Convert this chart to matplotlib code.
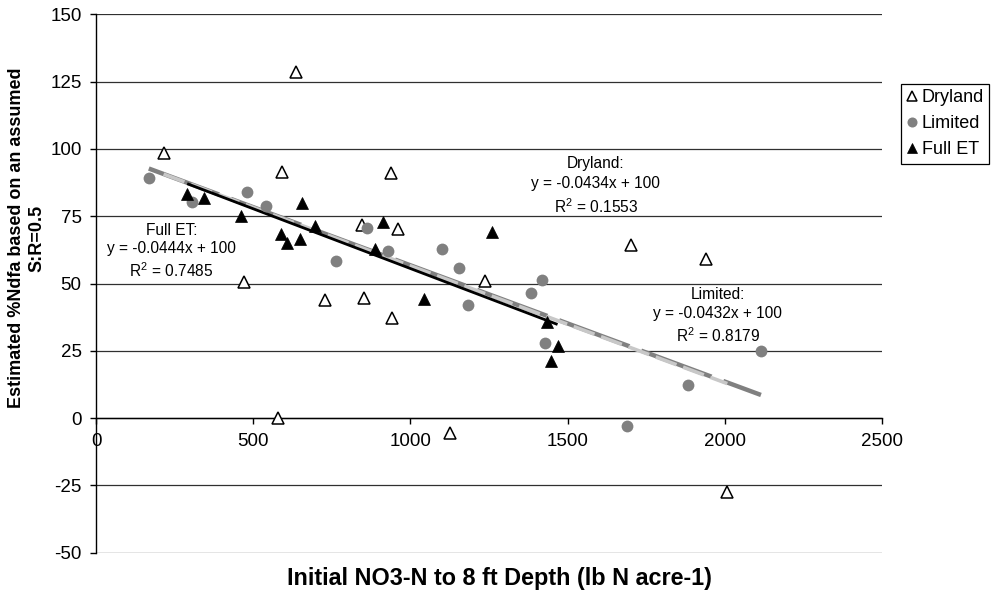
import matplotlib
matplotlib.use("Agg")
import matplotlib.pyplot as plt
import numpy as np

plt.rcParams['font.family'] = ['Liberation Sans', 'DejaVu Sans']
plt.rcParams['mathtext.fontset'] = 'custom'
plt.rcParams['mathtext.rm'] = 'Liberation Sans'
plt.rcParams['mathtext.it'] = 'Liberation Sans:italic'
plt.rcParams['mathtext.bf'] = 'Liberation Sans:bold'
plt.rcParams['lines.scale_dashes'] = False

# ---- data ----
dry_x = [215, 635, 591, 938, 846, 962, 471, 729, 854, 941, 1237, 578, 1127, 1703, 1940, 2008]
dry_y = [98.4, 128.5, 91.3, 91.0, 71.8, 70.2, 50.7, 43.9, 44.8, 37.1, 51.0, 0.0, -5.6, 64.3, 59.1, -27.5]

lim_x = [168, 306, 481, 541, 863, 763, 930, 1102, 1153, 1182, 1383, 1419, 1428, 2115, 1884, 1690]
lim_y = [89.1, 80.3, 83.9, 78.7, 70.8, 58.4, 62.1, 63.0, 55.9, 42.0, 46.5, 51.3, 27.8, 24.8, 12.2, -2.9]

full_x = [290, 343, 462, 654, 695, 914, 588, 608, 650, 886, 1044, 1261, 1436, 1468, 1448]
full_y = [83.3, 81.9, 75.2, 80.0, 71.5, 72.9, 68.3, 65.0, 66.4, 62.7, 44.4, 69.2, 35.6, 26.9, 21.2]

# trendline coefficients (from the chart's equations)
slope_full, icpt_full = -0.0444, 100
slope_dry, icpt_dry = -0.0434, 100
slope_lim, icpt_lim = -0.0432, 100

xticks = [0, 500, 1000, 1500, 2000, 2500]
yticks = [-50, -25, 0, 25, 50, 75, 100, 125, 150]

fig = plt.figure(figsize=(9.94, 6.0), dpi=100)
ax = fig.add_axes([96/994, 1-552.8/600, (882-96)/994, (552.8-14.4)/600])
ax.set_xlim(0, 2500)
ax.set_ylim(-50, 150)

# gridlines
for yv in yticks:
    ax.axhline(yv, color='#303030', lw=0.9, zorder=0)

# trendlines
def tline(xs, m, b):
    xx = np.array([min(xs), max(xs)], dtype=float)
    return xx, m*xx + b

xx, yy = tline(lim_x, slope_lim, icpt_lim)
l1, = ax.plot(xx, yy, color='#808080', lw=3.2, zorder=2, solid_capstyle='butt', dash_capstyle='butt')
l1.set_dashes([54, 9])
xx, yy = tline(dry_x, slope_dry, icpt_dry)
l2, = ax.plot(xx, yy, color='#c8c8c8', lw=2.6, zorder=2.1, dash_capstyle='butt')
l2.set_dashes([16, 5])
xx, yy = tline(full_x, slope_full, icpt_full)
ax.plot(xx, yy, color='black', lw=2.0, zorder=2.2, solid_capstyle='butt')

# points
ax.plot(dry_x, dry_y, linestyle='none', marker='^', ms=8.5, mfc='white', mec='black',
        mew=1.1, zorder=3, label='Dryland')
ax.plot(lim_x, lim_y, linestyle='none', marker='o', ms=8.5, mfc='#808080', mec='#808080',
        mew=0, zorder=3, label='Limited')
ax.plot(full_x, full_y, linestyle='none', marker='^', ms=8.5, mfc='black', mec='black',
        mew=0.5, zorder=3, label='Full ET')

# spines
ax.spines['top'].set_visible(False)
ax.spines['right'].set_visible(False)
ax.spines['bottom'].set_position(('data', 0))
ax.spines['left'].set_color('black')
ax.spines['bottom'].set_color('black')
ax.spines['left'].set_linewidth(1.0)
ax.spines['bottom'].set_linewidth(1.0)

ax.set_xticks(xticks)
ax.set_yticks(yticks)
ax.set_xticklabels([str(v) for v in xticks])
ax.set_yticklabels([str(v) for v in yticks])
ax.tick_params(axis='both', direction='out', length=4.3, width=1, labelsize=13.5, colors='black')
ax.tick_params(axis='x', pad=6)
ax.tick_params(axis='y', pad=6)

# annotations
fs = 11.2
def eqtext(xc, ys, lines):
    for yv, t in zip(ys, lines):
        ax.text(xc, yv, t, ha='center', va='center', fontsize=fs, zorder=4)

eqtext(240, [69.9, 62.9, 54.7], ['Full ET:', 'y = -0.0444x + 100', 'R$^2$ = 0.7485'])
eqtext(1590, [94.5, 87.3, 78.6], ['Dryland:', 'y = -0.0434x + 100', 'R$^2$ = 0.1553'])
eqtext(1978, [45.8, 39.0, 30.6], ['Limited:', 'y = -0.0432x + 100', 'R$^2$ = 0.8179'])

# axis labels
fig.text(499/994, 1-578/600, 'Initial NO3-N to 8 ft Depth (lb N acre-1)', ha='center', va='center',
         fontsize=16.8, fontweight='bold')
fig.text(27/994, 1-238/600, 'Estimated %Ndfa based on an assumed\nS:R=0.5', ha='center', va='center',
         rotation=90, fontsize=13, fontweight='bold', multialignment='center', linespacing=1.3)

leg = ax.legend(loc='upper left', bbox_to_anchor=(901/994, 1-84/600), bbox_transform=fig.transFigure,
                borderaxespad=0, fancybox=False, edgecolor='black', framealpha=1, fontsize=13,
                handlelength=0.6, handletextpad=0.25, labelspacing=0.5, borderpad=0.3,
                markerscale=0.85)
leg.get_frame().set_linewidth(0.9)

fig.savefig('out.png', dpi=100)
